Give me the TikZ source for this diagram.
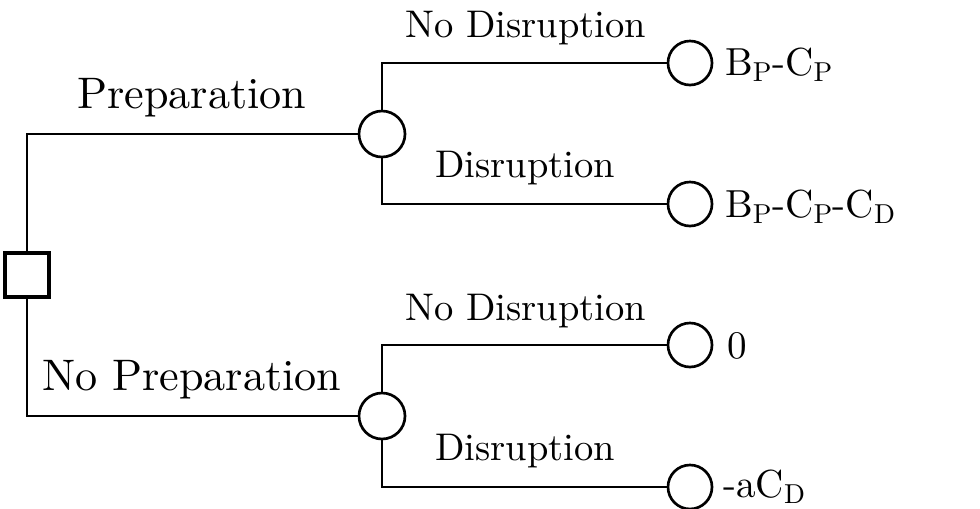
\documentclass[tikz,border=0pt]{standalone}
\usepackage{fontspec}
\setmainfont{lmroman10-regular.otf}
\usetikzlibrary{positioning}

\begin{document}
\begin{tikzpicture}[
    x=0.025cm, y=-0.025cm,
    decision/.style={rectangle, draw, line width=2.2pt, minimum size=1.1cm, inner sep=0pt},
    chance/.style={circle, draw, line width=1.9pt, minimum size=1.15cm, inner sep=0pt},
    leaf/.style={circle, draw, line width=1.9pt, minimum size=1.1cm, inner sep=0pt},
    branch/.style={line width=1.6pt},
    choicelabel/.style={anchor=base west, inner sep=0pt, font=\fontsize{31.4}{36}\selectfont},
    eventlabel/.style={anchor=base west, inner sep=0pt, font=\fontsize{27.4}{32}\selectfont},
    payoff/.style={anchor=base west, inner sep=0pt, font=\fontsize{27.8}{32}\selectfont}
    ]

    \useasboundingbox (0,0) rectangle (980,508);

    % Nodos de decision y de azar
    \node[decision] (Decision) at (27,275) {};
    \node[chance] (AzarP) at (382,134) {};
    \node[chance] (AzarNP) at (382,416) {};

    % Resultados
    \node[leaf] (R1) at (690,63) {};
    \node[leaf] (R2) at (690,204) {};
    \node[leaf] (R3) at (690,345) {};
    \node[leaf] (R4) at (690,487) {};

    % Ramas
    \draw[branch] (Decision.north) |- (AzarP.west);
    \draw[branch] (Decision.south) |- (AzarNP.west);
    \draw[branch] (AzarP.north) |- (R1.west);
    \draw[branch] (AzarP.south) |- (R2.west);
    \draw[branch] (AzarNP.north) |- (R3.west);
    \draw[branch] (AzarNP.south) |- (R4.west);

    % Etiquetas de las ramas
    \node[choicelabel] (LPrep) at (77,108) {Preparation};
    \node[choicelabel] (LNoPrep) at (42,390) {No Preparation};
    \node[eventlabel] (LND1) at (405,37) {No Disruption};
    \node[eventlabel] (LD1) at (435,177) {Disruption};
    \node[eventlabel] (LND2) at (405,320) {No Disruption};
    \node[eventlabel] (LD2) at (435,460) {Disruption};

    % Pagos
    \node[payoff] (P1) at (725,75) {B$_\mathrm{P}$-C$_\mathrm{P}$};
    \node[payoff] (P2) at (725,217) {B$_\mathrm{P}$-C$_\mathrm{P}$-C$_\mathrm{D}$};
    \node[payoff] (P3) at (727,358) {0};
    \node[payoff] (P4) at (723,497) {-aC$_\mathrm{D}$};

\end{tikzpicture}
\end{document}
